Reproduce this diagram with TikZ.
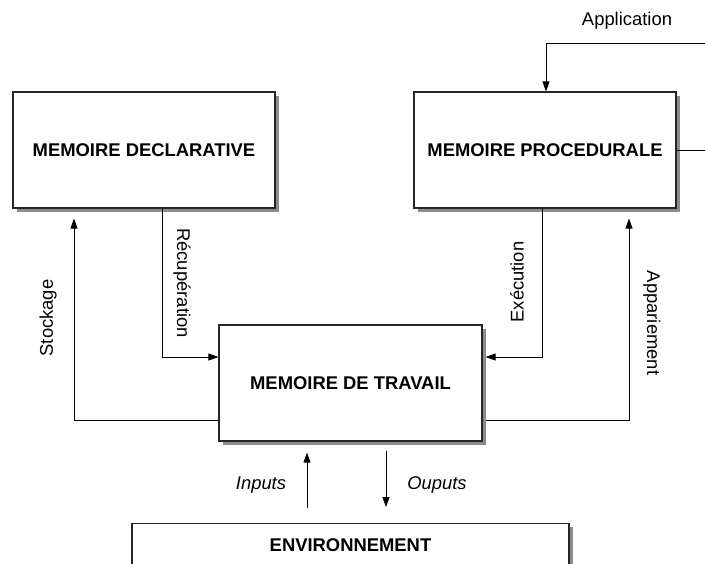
\documentclass[tikz,border=0pt]{standalone}
\usepackage{fontspec}
\setmainfont{Liberation Sans}
\usetikzlibrary{shadows,arrows.meta}
\begin{document}
\begin{tikzpicture}[x=1pt,y=-1pt,
  memory/.style={draw=black!85, line width=1.1pt, fill=white,
    minimum width=262pt, minimum height=116pt, inner sep=0pt,
    font=\fontsize{18.4}{21}\selectfont\bfseries,
    drop shadow={shadow xshift=3.5pt, shadow yshift=-3.5pt, fill=black!45, opacity=1}},
  link/.style={draw=black, line width=0.8pt},
  tip/.style={-{Triangle[length=10pt,width=7pt]}},
  lbl/.style={font=\fontsize{18.4}{21}\selectfont, inner sep=0pt},
  ilbl/.style={font=\fontsize{18.4}{21}\selectfont\itshape, inner sep=0pt}]
  \useasboundingbox (0,0) rectangle (705,563);
  \clip (0,0) rectangle (705,563);

  % memory stores
  \node[memory] (decl) at (144,150) {MEMOIRE DECLARATIVE};
  \node[memory] (proc) at (545,150) {MEMOIRE PROCEDURALE};
  \node[memory, minimum width=263pt] (trav) at (350.5,383) {MEMOIRE DE TRAVAIL};
  \node[memory, minimum width=437pt, anchor=north] (env) at (350.5,523) {};
  \node[font=\fontsize{18.4}{21}\selectfont\bfseries, inner sep=0pt] (envtext) at (350.5,545) {ENVIRONNEMENT};

  % routing coordinates
  \coordinate (recx) at (162,357);
  \coordinate (stox) at (74,420);
  \coordinate (exex) at (542,357);
  \coordinate (appx) at (629,420);
  \coordinate (loopr) at (720,43);
  \coordinate (appin) at (546,43);
  \coordinate (inx) at (307,0);
  \coordinate (outx) at (386,0);

  % declarative <-> working memory
  \draw[link,tip] (decl.south -| recx) |- (trav.west |- recx);
  \draw[link,tip] (trav.west |- stox) -| ([yshift=-10pt]decl.south -| stox);
  % procedural <-> working memory
  \draw[link,tip,shorten >=3pt] (proc.south -| exex) |- (trav.east |- exex);
  \draw[link,tip] ([xshift=3pt]trav.east |- appx) -| ([yshift=-10pt]proc.south -| appx);
  % application loop
  \draw[link,tip] (proc.east) -- (proc.east -| loopr) -- (loopr) -- (appin) -- (proc.north -| appin);
  % environment exchange
  \draw[link,tip] ([yshift=15pt]env.north -| inx) -- ([yshift=-11pt]trav.south -| inx);
  \draw[link,tip] ([yshift=-9pt]trav.south -| outx) -- ([yshift=16pt]env.north -| outx);

  % labels
  \node[lbl] (lapp) at (627,21) {Application};
  \node[lbl, rotate=90] (lsto) at (48,318) {Stockage};
  \node[lbl, rotate=-90] (lrec) at (182,283) {Récupération};
  \node[lbl, rotate=90] (lexe) at (517,282) {Exécution};
  \node[lbl, rotate=-90] (lapa) at (652,323) {Appariement};
  \node[ilbl] (lin) at (261,485) {Inputs};
  \node[ilbl] (lout) at (437,485) {Ouputs};
\end{tikzpicture}
\end{document}
